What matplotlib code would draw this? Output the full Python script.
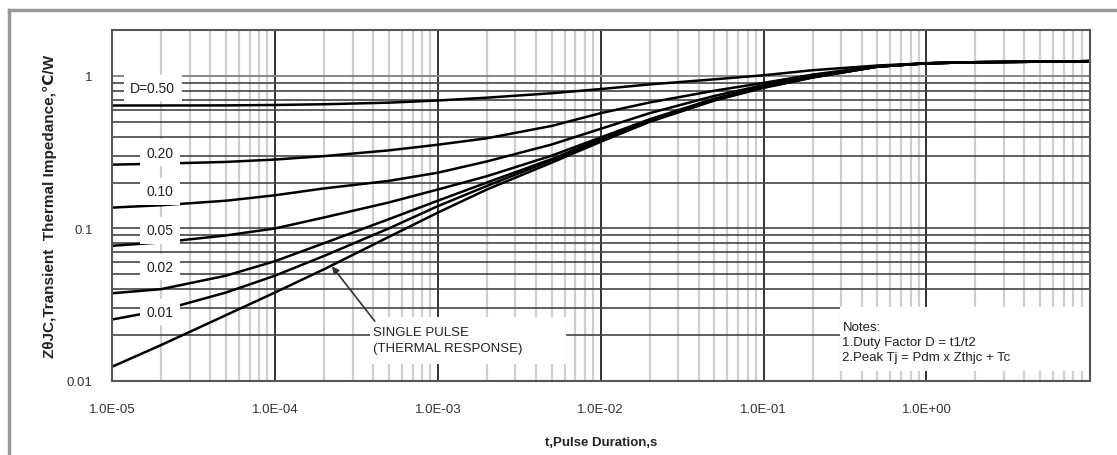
import numpy as np
import matplotlib.pyplot as plt
from matplotlib.patches import Rectangle
from matplotlib.lines import Line2D

plt.rcParams['font.family'] = ['Liberation Sans', 'DejaVu Sans']

# pulse duration, s
t = [1e-5, 2e-5, 5e-5, 1e-4, 2e-4, 5e-4, 1e-3, 2e-3, 5e-3, 1e-2,
     2e-2, 5e-2, 1e-1, 2e-1, 5e-1, 1e0, 2e0, 5e0, 1e1]

# transient thermal impedance, C/W, one list per duty factor
z_d50 = [0.64, 0.64, 0.641, 0.645, 0.652, 0.668, 0.69, 0.72, 0.77, 0.82,
         0.88, 0.95, 1.01, 1.09, 1.17, 1.21, 1.23, 1.24, 1.25]
z_d20 = [0.262, 0.266, 0.273, 0.283, 0.298, 0.325, 0.354, 0.39, 0.47, 0.57,
         0.67, 0.80, 0.90, 1.02, 1.16, 1.21, 1.23, 1.24, 1.25]
z_d10 = [0.137, 0.142, 0.152, 0.165, 0.183, 0.205, 0.232, 0.275, 0.355, 0.45,
         0.57, 0.74, 0.87, 1.00, 1.15, 1.21, 1.23, 1.24, 1.25]
z_d05 = [0.077, 0.081, 0.09, 0.10, 0.118, 0.148, 0.18, 0.22, 0.30, 0.395,
         0.52, 0.71, 0.85, 0.99, 1.15, 1.21, 1.23, 1.24, 1.25]
z_d02 = [0.0376, 0.040, 0.049, 0.061, 0.08, 0.115, 0.152, 0.20, 0.285, 0.385,
         0.51, 0.70, 0.845, 0.98, 1.15, 1.21, 1.23, 1.24, 1.25]
z_d01 = [0.0253, 0.029, 0.038, 0.049, 0.066, 0.10, 0.14, 0.19, 0.28, 0.38,
         0.505, 0.695, 0.84, 0.98, 1.15, 1.21, 1.23, 1.24, 1.25]
z_single = [0.0124, 0.0172, 0.027, 0.038, 0.054, 0.088, 0.127, 0.18, 0.27, 0.37,
            0.50, 0.69, 0.835, 0.975, 1.15, 1.21, 1.23, 1.24, 1.25]

curve_labels = ['D=0.50', '0.20', '0.10', '0.05', '0.02', '0.01']
label_x = [1.78e-5, 1.97e-5, 1.97e-5, 1.97e-5, 1.97e-5, 1.97e-5]
label_y = [0.835, 0.314, 0.175, 0.097, 0.0557, 0.0283]

xtick_vals = [1e-5, 1e-4, 1e-3, 1e-2, 1e-1, 1e0]
xtick_text = ['1.0E-05', '1.0E-04', '1.0E-03', '1.0E-02', '1.0E-01', '1.0E+00']
ytick_vals = [0.01, 0.1, 1]
ytick_text = ['0.01', '0.1', '1']

fig = plt.figure(figsize=(11.17, 4.56), dpi=100)
ax = fig.add_axes([0.1003, 0.1623, 0.8755, 0.7697])
ax.set_xscale('log')
ax.set_yscale('log')
ax.set_xlim(1e-5, 10.1)
ax.set_ylim(0.01, 2.0)

# grid: light vertical minors, dark decades, dark horizontal lines
for dec in range(-5, 1):
    for k in range(2, 10):
        ax.axvline(k * 10.0**dec, color='#cfcfcf', lw=1.6, zorder=1)
    ax.axvline(10.0**dec, color='#222222', lw=1.3, zorder=2)
for dec in (-2, -1):
    for k in range(1, 10):
        ax.axhline(k * 10.0**dec, color='#444444', lw=1.2, zorder=2)
ax.axhline(1.0, color='#888888', lw=1.4, zorder=2)

for z in (z_d50, z_d20, z_d10, z_d05, z_d02, z_d01, z_single):
    ax.plot(t, z, color='black', lw=1.8, zorder=4)

for lab, lx, ly in zip(curve_labels, label_x, label_y):
    ax.text(lx, ly, lab, ha='center', va='center', fontsize=10, color='#222222',
            bbox=dict(boxstyle='square,pad=0.45', fc='white', ec='none'), zorder=5)

# white panels behind the notes
ax.add_patch(Rectangle((0.264, 0.048), 0.2, 0.134, transform=ax.transAxes,
                       fc='white', ec='none', zorder=3))
ax.add_patch(Rectangle((0.744, 0.028), 0.256, 0.183, transform=ax.transAxes,
                       fc='white', ec='none', zorder=3))

ax.text(4.0e-4, 0.0185, 'SINGLE PULSE\n(THERMAL RESPONSE)', ha='left', va='center',
        fontsize=9.5, color='#222222', linespacing=1.45, zorder=6)
ax.annotate('', xy=(2.24e-4, 0.0565), xytext=(4.1e-4, 0.0247),
            arrowprops=dict(arrowstyle='-|>', color='#333333', lw=1.2,
                            mutation_scale=10, shrinkA=0, shrinkB=0), zorder=6)
ax.text(0.305, 0.018, 'Notes:\n1.Duty Factor D = t1/t2\n2.Peak Tj = Pdm x Zthjc + Tc',
        ha='left', va='center', fontsize=9.5, color='#222222', linespacing=1.3, zorder=6)

ax.set_xticks(xtick_vals)
ax.set_xticklabels(xtick_text)
ax.set_yticks(ytick_vals)
ax.set_yticklabels(ytick_text)
ax.xaxis.set_minor_locator(plt.NullLocator())
ax.yaxis.set_minor_locator(plt.NullLocator())
ax.tick_params(axis='x', length=0, pad=16, labelsize=9.5, labelcolor='#333333')
ax.tick_params(axis='y', length=0, pad=14, labelsize=9.5, labelcolor='#333333')
for sp in ax.spines.values():
    sp.set_color('#555555')
    sp.set_linewidth(1.5)
    sp.set_zorder(7)

ax.set_xlabel('t,Pulse Duration,s', fontsize=9.5, fontweight='bold', color='#222222', labelpad=15)
ax.set_ylabel('ZθJC,Transient  Thermal Impedance,℃/W', fontsize=11, fontweight='bold',
              color='#222222', labelpad=7)

# outer frame (left and top edges only show)
fig.add_artist(Line2D([0.0085, 0.0085], [0.0, 0.976], transform=fig.transFigure,
                      color='#999999', lw=2.5))
fig.add_artist(Line2D([0.0085, 1.0], [0.976, 0.976], transform=fig.transFigure,
                      color='#999999', lw=2.5))

fig.savefig('out.png', dpi=100)
